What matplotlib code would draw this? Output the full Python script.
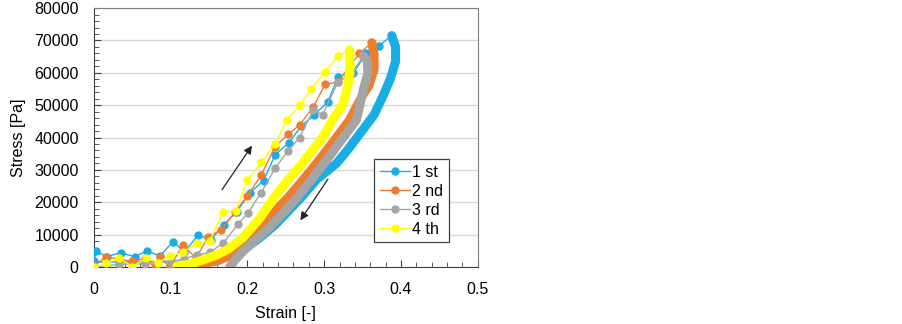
import matplotlib
matplotlib.use("Agg")
import matplotlib.pyplot as plt
from matplotlib.ticker import MultipleLocator

plt.rcParams['font.family'] = ['Liberation Sans', 'DejaVu Sans']

labels = ["1 st", "2 nd", "3 rd", "4 th"]
colors = ["#1AADE4", "#ED7D31", "#A5A5A5", "#FFFF00"]

# loading paths (sparse points with markers)
load_strain_1 = [0.0, 0.003, 0.0165, 0.035, 0.053, 0.069, 0.086, 0.103, 0.118, 0.136, 0.152, 0.169, 0.186,
                 0.203, 0.221, 0.236, 0.254, 0.270, 0.287, 0.305, 0.318, 0.338, 0.355, 0.371, 0.388]
load_stress_1 = [1800, 5000, 3200, 4400, 3200, 5000, 3400, 7800, 4700, 9900, 8300, 13000, 17000,
                 22900, 26700, 34600, 38400, 43500, 47000, 51100, 58800, 60000, 66000, 68300, 71500]

load_strain_2 = [0.0, 0.016, 0.033, 0.05, 0.066, 0.079, 0.086, 0.099, 0.116, 0.133, 0.149, 0.166, 0.184,
                 0.2, 0.218, 0.236, 0.253, 0.268, 0.286, 0.301, 0.318, 0.346, 0.362]
load_stress_2 = [300, 3200, 2400, 1700, 2600, 0, 3000, 0, 6800, 2700, 9400, 11400, 17000,
                 22000, 28400, 37200, 41000, 43900, 49500, 56400, 57200, 66000, 69300]

load_strain_3 = [0.0, 0.033, 0.066, 0.1, 0.117, 0.134, 0.151, 0.168, 0.188, 0.201, 0.218, 0.236, 0.253,
                 0.268, 0.286, 0.298, 0.318, 0.335, 0.351]
load_stress_3 = [0, 800, 1000, 1600, 2500, 3700, 4500, 7300, 13300, 16800, 23000, 30500, 35900,
                 40000, 48500, 47000, 57200, 59500, 65200]

load_strain_4 = [0.0, 0.016, 0.033, 0.05, 0.068, 0.084, 0.099, 0.116, 0.134, 0.151, 0.168, 0.185, 0.2,
                 0.218, 0.236, 0.251, 0.268, 0.283, 0.301, 0.318, 0.333]
load_stress_4 = [0, 1100, 2700, 0, 2700, 1300, 3400, 4500, 7300, 8100, 16900, 17400, 26900,
                 32300, 37900, 45400, 50000, 54900, 60300, 65200, 67000]

# unloading paths (dense data, drawn as thick band)
unl_strain_1 = [0.388, 0.393, 0.393, 0.386, 0.377, 0.365, 0.35, 0.33, 0.316, 0.29, 0.272, 0.254, 0.236,
                0.216, 0.196, 0.178, 0.16, 0.14]
unl_stress_1 = [71500, 68000, 63500, 58000, 53000, 47000, 42300, 36000, 32000, 27000, 22000, 17500, 13000,
                9000, 5500, 3500, 2500, 2000]
tail_strain_1 = [0.14, 0.1, 0.05, 0.0]
tail_stress_1 = [2000, 1800, 1500, 1500]

unl_strain_2 = [0.362, 0.365, 0.365, 0.358, 0.349, 0.333, 0.307, 0.29, 0.2725, 0.253, 0.2335, 0.214,
                0.2, 0.18, 0.16, 0.13, 0.10]
unl_stress_2 = [69300, 66000, 61000, 56000, 52600, 45400, 37200, 32000, 26900, 21500, 16600, 11000,
                7000, 3800, 1800, 600, 200]

unl_strain_3 = [0.351, 0.356, 0.357, 0.352, 0.342, 0.316, 0.30, 0.283, 0.265, 0.2465, 0.228, 0.21,
                0.195, 0.184, 0.177]
unl_stress_3 = [65200, 64000, 60000, 55700, 45400, 37200, 32000, 26900, 21500, 16600, 12000, 8300,
                5000, 2200, 0]

unl_strain_4 = [0.333, 0.334, 0.331, 0.324, 0.311, 0.298, 0.288, 0.27, 0.253, 0.235, 0.216, 0.194,
                0.175, 0.16, 0.14, 0.125, 0.108]
unl_stress_4 = [67000, 62000, 56000, 50000, 45400, 40000, 37000, 31500, 27000, 21500, 15000, 9000,
                5500, 3700, 2000, 900, 300]

loads = [(load_strain_1, load_stress_1), (load_strain_2, load_stress_2),
         (load_strain_3, load_stress_3), (load_strain_4, load_stress_4)]
unloads = [(unl_strain_1, unl_stress_1), (unl_strain_2, unl_stress_2),
           (unl_strain_3, unl_stress_3), (unl_strain_4, unl_stress_4)]

fig = plt.figure(figsize=(9.03, 3.24), dpi=100)
ax = fig.add_axes([0.104, 0.176, 0.425, 0.799])

for i in range(4):
    c = colors[i]
    ls, lv = loads[i]
    us, uv = unloads[i]
    ax.plot(ls, lv, color=c, lw=1.0, marker='o', ms=5, label=labels[i], zorder=3 + i)
    ax.plot(us, uv, color=c, lw=6.5, solid_capstyle='round', solid_joinstyle='round', zorder=3 + i)
    if i == 0:
        ax.plot(tail_strain_1, tail_stress_1, color=c, lw=1.0, zorder=3)

# arrows
ax.annotate("", xy=(0.208, 38200), xytext=(0.165, 23200),
            arrowprops=dict(arrowstyle="-|>", color="#222222", lw=0.9, mutation_scale=12))
ax.annotate("", xy=(0.267, 13700), xytext=(0.307, 27900),
            arrowprops=dict(arrowstyle="-|>", color="#222222", lw=0.9, mutation_scale=12))

ax.set_xlim(0, 0.5)
ax.set_ylim(0, 80000)
ax.xaxis.set_major_locator(MultipleLocator(0.1))
ax.xaxis.set_minor_locator(MultipleLocator(0.02))
ax.yaxis.set_major_locator(MultipleLocator(10000))
ax.yaxis.set_minor_locator(MultipleLocator(2000))
ax.set_xticks([0, 0.1, 0.2, 0.3, 0.4, 0.5])
ax.set_xticklabels(["0", "0.1", "0.2", "0.3", "0.4", "0.5"])
ax.tick_params(axis='both', which='both', direction='in', colors='#404040', labelcolor='#000000',
               labelsize=11.5)
ax.tick_params(axis='both', which='major', length=5)
ax.tick_params(axis='both', which='minor', length=3.5)
ax.tick_params(axis='x', which='major', pad=11)
ax.tick_params(axis='y', which='major', pad=11)

ax.grid(axis='y', which='major', color='#D9D9D9', lw=1.0)
ax.set_axisbelow(True)

for side in ['top', 'right']:
    ax.spines[side].set_color('#808080')
for side in ['left', 'bottom']:
    ax.spines[side].set_color('#404040')

ax.set_xlabel("Strain [-]", fontsize=11.5, labelpad=6)
ax.set_ylabel("Stress [Pa]", fontsize=11.5, labelpad=6)

leg = ax.legend(loc='upper left', bbox_to_anchor=(0.731, 0.417), fontsize=11.5, fancybox=False,
                edgecolor='#404040', framealpha=1, handlelength=1.9, handletextpad=0.1,
                borderpad=0.35, labelspacing=0.25, borderaxespad=0)
leg.get_frame().set_linewidth(0.9)

fig.savefig("out.png", dpi=100)
